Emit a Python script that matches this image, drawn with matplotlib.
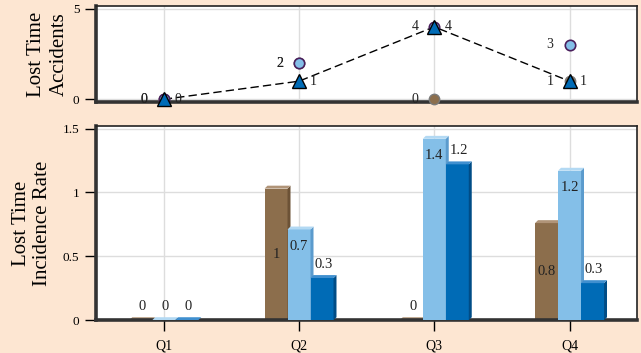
import matplotlib
matplotlib.use("Agg")
import matplotlib.pyplot as plt
from matplotlib.patches import Polygon
import numpy as np

plt.rcParams['font.family'] = ['Liberation Serif', 'DejaVu Serif']

quarters = ["Q1", "Q2", "Q3", "Q4"]

# lost time accidents (top panel)
acc_brown = [0, 2, 0, 1]
acc_light = [0, 2, 4, 3]
acc_dark = [0, 1, 4, 1]

# lost time incidence rate (bottom panel)
rate_brown = [0.0, 1.03, 0.0, 0.76]
rate_light = [0.0, 0.71, 1.42, 1.17]
rate_dark = [0.0, 0.33, 1.22, 0.29]

BG = "#FDE6D2"
BROWN = ("#8C6E4C", "#6C5236", "#B09478")
LIGHT = ("#84BFE8", "#5B9BCD", "#B3D9F3")
DARK = ("#006BB6", "#004C86", "#3F8FCF")
EDGE = "#4A1F5C"

fig = plt.figure(figsize=(6.41, 3.53), dpi=100, facecolor=BG)
ax1 = fig.add_axes([0.150, 0.711, 0.844, 0.272])
ax2 = fig.add_axes([0.150, 0.093, 0.844, 0.550])

x = np.arange(len(quarters))


def frame(ax):
    ax.set_facecolor("white")
    for side in ["top", "right"]:
        ax.spines[side].set_color("#222222")
        ax.spines[side].set_linewidth(1.2)
    for side in ["left", "bottom"]:
        ax.spines[side].set_color("#333333")
        ax.spines[side].set_linewidth(2.6)
    ax.grid(True, color="#DDDDDD", linewidth=1)
    ax.set_axisbelow(True)
    ax.tick_params(axis="y", length=8, width=1, labelsize=9.5, pad=4)
    ax.tick_params(axis="x", length=8, width=1, labelsize=10, pad=6)
    ax.set_xlim(-0.5, 3.5)
    ax.set_xticks(x)


def fmt(v):
    return f"{round(v, 1):g}"


# top panel
frame(ax1)
ax1.set_ylim(-0.15, 5.15)
ax1.set_yticks([0, 5])
ax1.set_xticklabels([])
ax1.tick_params(axis="x", length=0)
ax1.set_ylabel("Lost Time\nAccidents", fontsize=15, labelpad=3, linespacing=1.25)

ax1.plot(x, acc_dark, color="black", lw=1, ls=(0, (6, 3)), zorder=3)
ax1.plot(x, acc_brown, "o", ms=7.5, color=BROWN[0], mec="#7A7A7A", mew=1, zorder=4, clip_on=False)
ax1.plot(x, acc_light, "o", ms=7.5, color=LIGHT[0], mec=EDGE, mew=1.2, zorder=5, clip_on=False)
ax1.plot(x, acc_dark, "^", ms=10, color=DARK[0], mec="black", mew=1, ls="none",
         zorder=6, clip_on=False)

for xi, v in zip(x, acc_brown):
    ax1.annotate(str(v), (xi, v), xytext=(-14, 0), textcoords="offset points",
                 ha="center", va="center", fontsize=10, color="#222222")
for xi, v in zip(x, acc_light):
    ax1.annotate(str(v), (xi, v), xytext=(-14, 0), textcoords="offset points",
                 ha="center", va="center", fontsize=10, color="#222222")
for xi, v in zip(x, acc_dark):
    ax1.annotate(str(v), (xi, v), xytext=(10, 0), textcoords="offset points",
                 ha="center", va="center", fontsize=10, color="#222222")

# bottom panel
frame(ax2)
ax2.set_ylim(0, 1.52)
ax2.set_yticks([0, 0.5, 1, 1.5])
ax2.set_yticklabels(["0", "0.5", "1", "1.5"])
ax2.set_xticklabels(quarters)
ax2.set_ylabel("Lost Time\nIncidence Rate", fontsize=15, labelpad=8, linespacing=1.15)

w = 0.17
dx, dy = 0.022, 0.023
series = [(rate_brown, BROWN, -w, "center"), (rate_light, LIGHT, 0, "top"), (rate_dark, DARK, w, "above")]
for k, (vals, cols, off, mode) in enumerate(series):
    z = 2 + k
    bars = ax2.bar(x + off, vals, w, color=cols[0], zorder=z)
    for b, v in zip(bars, vals):
        x0, bw, h = b.get_x(), b.get_width(), b.get_height()
        side = Polygon([(x0 + bw, 0), (x0 + bw + dx, dy), (x0 + bw + dx, h + dy), (x0 + bw, h)],
                       closed=True, color=cols[1], zorder=z, lw=0)
        top = Polygon([(x0, h), (x0 + dx, h + dy), (x0 + bw + dx, h + dy), (x0 + bw, h)],
                      closed=True, color=cols[2], zorder=z, lw=0)
        ax2.add_patch(side)
        ax2.add_patch(top)
        cx = x0 + bw / 2
        if v == 0 or mode == "above":
            ax2.annotate(fmt(v), (cx + dx / 2, h + dy), xytext=(0, 3), textcoords="offset points",
                         ha="center", va="bottom", fontsize=10.5, color="#222222", zorder=10)
        elif mode == "center":
            ax2.text(cx, h / 2, fmt(v), ha="center", va="center", fontsize=10.5,
                     color="#222222", zorder=10)
        else:
            ax2.annotate(fmt(v), (cx, h), xytext=(0, -12), textcoords="offset points",
                         ha="center", va="center", fontsize=10.5, color="#222222", zorder=10)

fig.savefig("out.png", dpi=100, facecolor=BG)
